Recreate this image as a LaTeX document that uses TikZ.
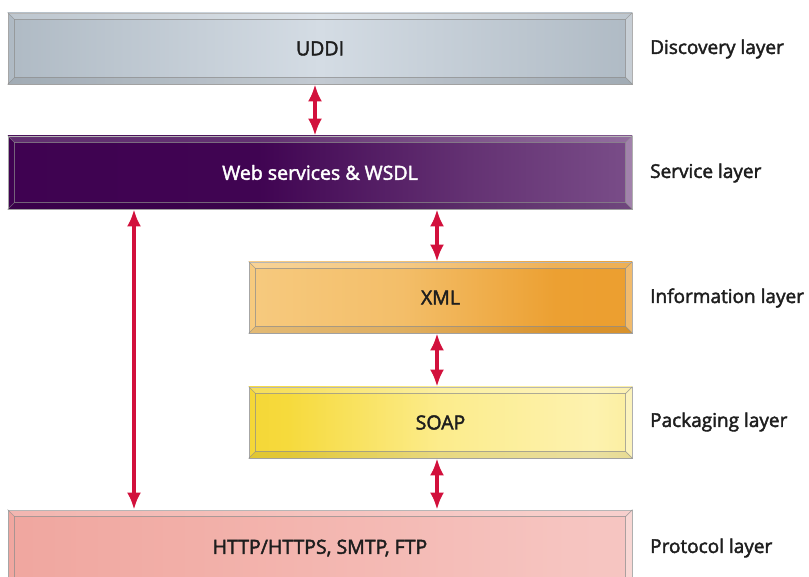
\documentclass[tikz,border=0pt]{standalone}
\usepackage{fontspec}
\setmainfont{Open Sans}
\newfontfamily\heavyfont{Open Sans}[FakeBold=2.2]
\usetikzlibrary{arrows.meta,calc}
\definecolor{arrred}{HTML}{D2103C}
\definecolor{txt}{HTML}{1E1E1E}
\pgfdeclarehorizontalshading{uddish}{100bp}{color(0bp)=({rgb,255:red,140;green,153;blue,164}); color(25bp)=({rgb,255:red,175;green,186;blue,196});
  color(50bp)=({rgb,255:red,212;green,220;blue,228}); color(75bp)=({rgb,255:red,175;green,186;blue,196});
  color(100bp)=({rgb,255:red,138;green,151;blue,162})}
\pgfdeclarehorizontalshading{websh}{100bp}{color(0bp)=({rgb,255:red,62;green,0;blue,80});
  color(45bp)=({rgb,255:red,64;green,4;blue,82}); color(62bp)=({rgb,255:red,100;green,50;blue,115});
  color(80bp)=({rgb,255:red,130;green,88;blue,145}); color(100bp)=({rgb,255:red,158;green,120;blue,172})}
\pgfdeclarehorizontalshading{xmlsh}{100bp}{color(0bp)=({rgb,255:red,238;green,165;blue,60});
  color(8bp)=({rgb,255:red,250;green,212;blue,145}); color(45bp)=({rgb,255:red,243;green,190;blue,105});
  color(65bp)=({rgb,255:red,236;green,160;blue,50}); color(100bp)=({rgb,255:red,234;green,155;blue,40})}
\pgfdeclarehorizontalshading{soapsh}{100bp}{color(0bp)=({rgb,255:red,240;green,200;blue,30});
  color(30bp)=({rgb,255:red,246;green,218;blue,60}); color(50bp)=({rgb,255:red,252;green,236;blue,140});
  color(70bp)=({rgb,255:red,253;green,242;blue,175}); color(100bp)=({rgb,255:red,245;green,218;blue,80})}
\pgfdeclarehorizontalshading{httpsh}{100bp}{color(0bp)=({rgb,255:red,236;green,152;blue,145});
  color(40bp)=({rgb,255:red,242;green,175;blue,168}); color(70bp)=({rgb,255:red,246;green,196;blue,192});
  color(100bp)=({rgb,255:red,248;green,206;blue,203})}
\tikzset{
  layerbox/.style={draw=gray!70, line width=0.8pt, inner sep=0pt, font=\heavyfont\fontsize{19.5}{22}\selectfont, text=txt},
  layerlabel/.style={anchor=west, inner sep=0pt, font=\heavyfont\fontsize{19}{22}\selectfont, text=txt},
  arr/.style={draw=arrred, line width=3.2pt, {Latex[length=17pt,width=14pt]}-{Latex[length=17pt,width=14pt]}},
  bevel/.style={draw=black!45, line width=0.7pt, opacity=0.7}
}
\newcommand{\bevelbox}[1]{%
  \fill[white, opacity=0.18] (#1.north west) -- (#1.north east) -- ($(#1.north east)+(-7,7)$) -- ($(#1.north west)+(7,7)$) -- cycle;
  \fill[white, opacity=0.3] (#1.north east) -- (#1.south east) -- ($(#1.south east)+(-7,-7)$) -- ($(#1.north east)+(-7,7)$) -- cycle;
  \fill[black, opacity=0.08] (#1.south west) -- (#1.south east) -- ($(#1.south east)+(-7,-7)$) -- ($(#1.south west)+(7,-7)$) -- cycle;
  \draw[bevel] ($(#1.north west)+(7,7)$) rectangle ($(#1.south east)+(-7,-7)$);
  \draw[bevel] (#1.north west) -- ++(7,7) (#1.north east) -- ++(-7,7) (#1.south west) -- ++(7,-7) (#1.south east) -- ++(-7,-7);
}
\begin{document}
\begin{tikzpicture}[x=1pt,y=-1pt]
\useasboundingbox (0,0) rectangle (809,577);
\clip (0,0) rectangle (809,577);
\node[layerbox, shade, shading=uddish, minimum width=624pt, minimum height=71pt] (uddi) at (320,48.5) {};
\node[layerbox, shade, shading=websh, minimum width=624pt, minimum height=73pt] (web) at (320,172.5) {};
\node[layerbox, shade, shading=xmlsh, minimum width=383pt, minimum height=71pt] (xml) at (440.5,297.5) {};
\node[layerbox, shade, shading=soapsh, minimum width=383pt, minimum height=71pt] (soap) at (440.5,422.5) {};
\node[layerbox, shade, shading=httpsh, minimum width=624pt, minimum height=76pt] (http) at (320,548) {};
\bevelbox{uddi}\bevelbox{web}\bevelbox{xml}\bevelbox{soap}\bevelbox{http}
\node[layerbox, draw=none] (tuddi) at (uddi) {UDDI};
\node[layerbox, draw=none, text=white] (tweb) at (web) {Web services \& WSDL};
\node[layerbox, draw=none] (txml) at (xml) {XML};
\node[layerbox, draw=none] (tsoap) at (soap) {SOAP};
\node[layerbox, draw=none] (thttp) at (http) {HTTP/HTTPS, SMTP, FTP};
\coordinate (mx) at (315,0);
\coordinate (lx) at (134,0);
\coordinate (rx) at (437,0);
\draw[arr] (mx |- uddi.south) -- (mx |- web.north);
\draw[arr] (lx |- web.south) -- (lx |- http.north);
\draw[arr] (rx |- web.south) -- (rx |- xml.north);
\draw[arr] (rx |- xml.south) -- (rx |- soap.north);
\draw[arr] (rx |- soap.south) -- (rx |- http.north);
\node[layerlabel] (l1) at (650,49) {Discovery layer};
\node[layerlabel] (l2) at (650,173) {Service layer};
\node[layerlabel] (l3) at (650,298) {Information layer};
\node[layerlabel] (l4) at (650,422) {Packaging layer};
\node[layerlabel] (l5) at (650,548) {Protocol layer};
\end{tikzpicture}
\end{document}
